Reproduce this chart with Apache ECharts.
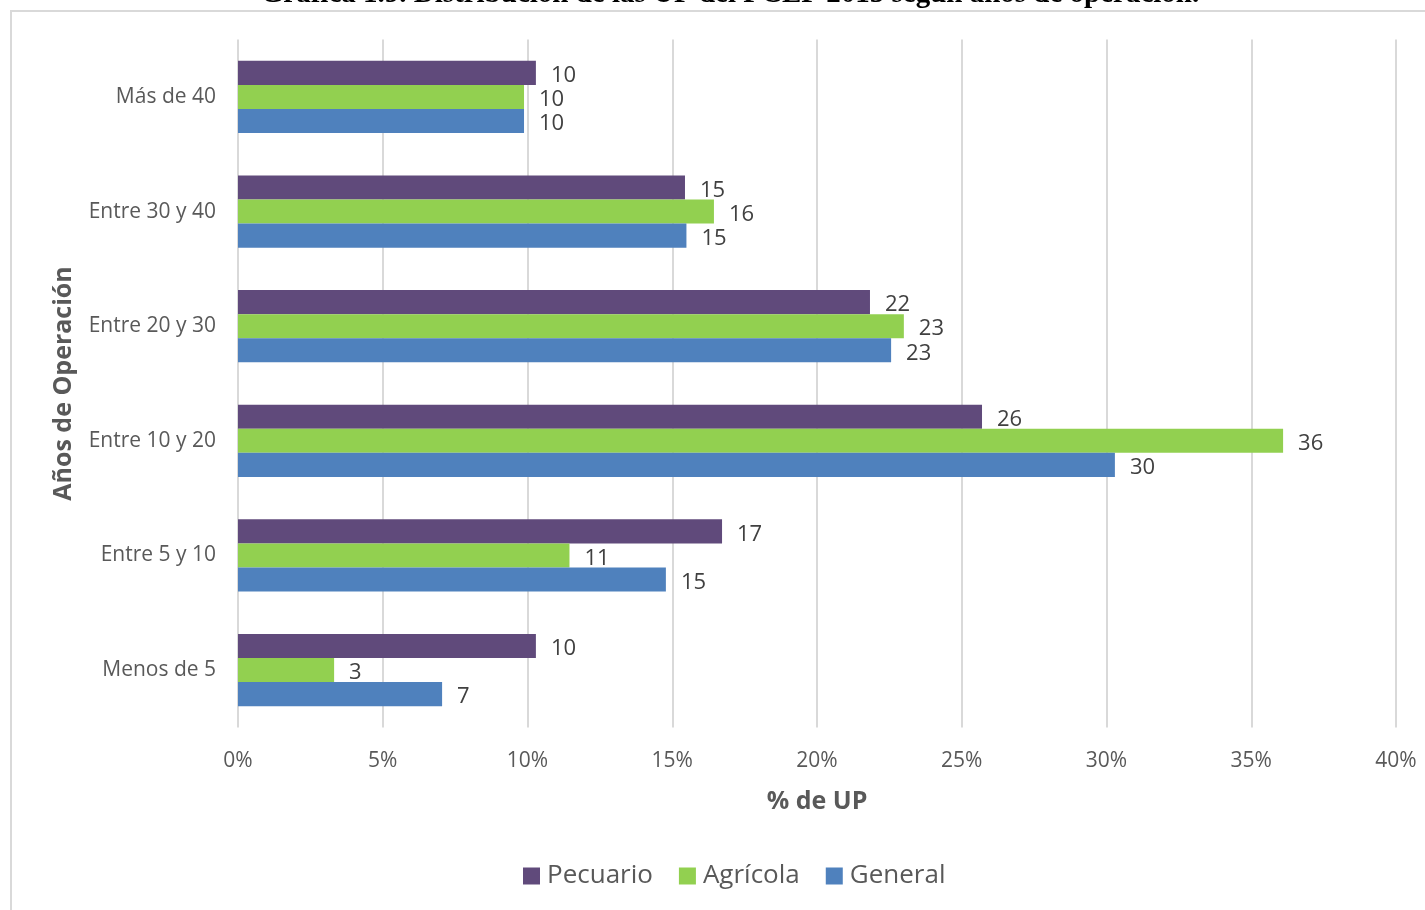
<!DOCTYPE html>
<html><head><meta charset="utf-8">
<script src="https://cdn.jsdelivr.net/npm/echarts@6/dist/echarts.min.js"></script>
<style>html,body{margin:0;padding:0;background:#fff}#c{width:1425px;height:910px}</style>
</head><body><div id="c"></div>
<script>
const categories = ['Menos de 5', 'Entre 5 y 10', 'Entre 10 y 20', 'Entre 20 y 30', 'Entre 30 y 40', 'Más de 40'];
const general  = [7.05, 14.78, 30.29, 22.56, 15.49, 9.88];
const agricola = [3.32, 11.45, 36.1, 23.0, 16.44, 9.88];
const pecuario = [10.29, 16.72, 25.7, 21.83, 15.44, 10.29];
const xTicks = [0, 5, 10, 15, 20, 25, 30, 35, 40];
const titleText = 'Gráfica 1.9. Distribución de las UP del PCEP 2015 según años de operación.';

const font = 'Open Sans';
const chart = echarts.init(document.getElementById('c'));
const lbl = {show: true, position: 'right', distance: 15, offset: [0, 3], color: '#404040', fontSize: 22, fontFamily: font,
  formatter: p => Math.round(p.value)};
function mk(name, data, color) {
  return {name, type: 'bar', data, barGap: '0%', barCategoryGap: '37%',
    itemStyle: {color}, label: lbl, silent: true};
}
chart.setOption({
  animation: false,
  graphic: [
    {type: 'rect', shape: {x: 11, y: 11, width: 1430, height: 920}, style: {fill: 'none', stroke: '#d9d9d9', lineWidth: 2}, z: -1},
    {type: 'text', x: 730, y: 9, style: {text: titleText, font: 'bold 29px "Liberation Serif"', fill: '#000', textAlign: 'center', textVerticalAlign: 'bottom'}}
  ],
  legend: {
    data: ['Pecuario', 'Agrícola', 'General'], bottom: 16, left: 518,
    itemWidth: 17, itemHeight: 17, itemGap: 26, icon: 'rect',
    textStyle: {color: '#595959', fontSize: 26, fontFamily: font, padding: [0, 0, 0, 2]}
  },
  grid: {left: 238, right: 29, top: 39.6, bottom: 182.6},
  xAxis: {
    type: 'value', min: xTicks[0], max: xTicks[xTicks.length - 1], interval: 5,
    name: '% de UP', nameLocation: 'middle', nameGap: 62,
    nameTextStyle: {color: '#595959', fontSize: 25, fontWeight: 'bold', fontFamily: font},
    axisLine: {show: false}, axisTick: {show: false},
    axisLabel: {formatter: '{value}%', color: '#595959', fontSize: 21, fontFamily: font, margin: 23},
    splitLine: {show: true, lineStyle: {color: '#d9d9d9', width: 2}}
  },
  yAxis: {
    type: 'category', data: categories,
    name: 'Años de Operación', nameLocation: 'middle', nameGap: 162, nameRotate: 90,
    nameTextStyle: {color: '#595959', fontSize: 25, fontWeight: 'bold', fontFamily: font},
    axisLine: {show: false}, axisTick: {show: false},
    axisLabel: {color: '#595959', fontSize: 21, fontFamily: font, margin: 22, padding: [4, 0, 0, 0]}
  },
  series: [
    mk('Pecuario', pecuario, '#604A7B'),
    mk('Agrícola', agricola, '#92D050'),
    mk('General', general, '#4F81BD')
  ]
});
</script></body></html>
